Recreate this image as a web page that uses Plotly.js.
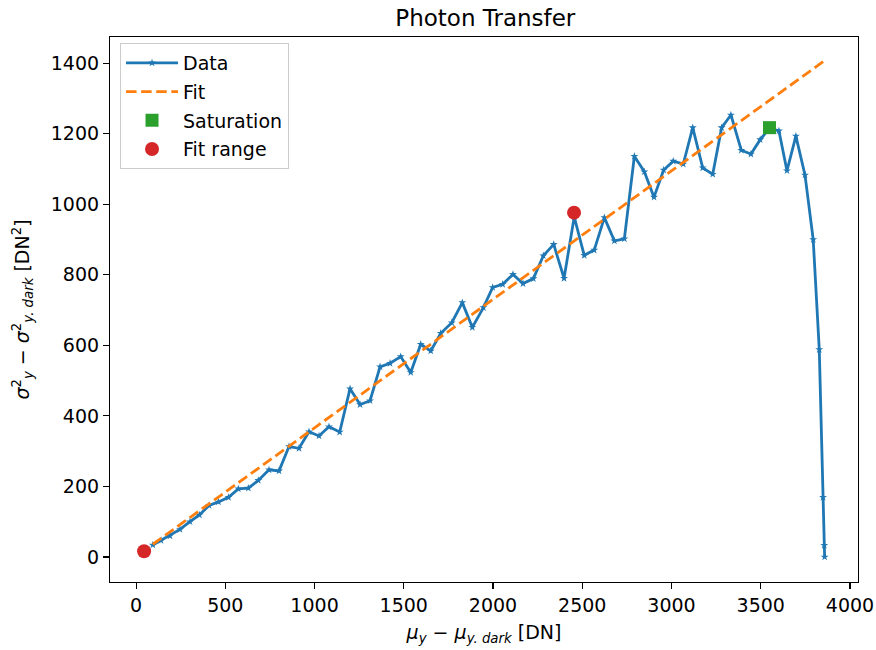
<!DOCTYPE html>
<html>
<head>
<meta charset="utf-8">
<script src="https://cdn.plot.ly/plotly-3.0.1.min.js"></script>
<style>html,body{margin:0;padding:0;background:#fff;}#chart{width:876px;height:650px;}</style>
</head>
<body>
<div id="chart"></div>
<script>
// Data series
const dataX = [94, 140, 190, 246, 302, 355, 409, 462, 518, 573, 629, 685, 745, 801, 857, 913, 969, 1025, 1081, 1141,
  1199, 1255, 1311, 1367, 1423, 1483, 1539, 1595, 1651, 1707, 1769, 1828, 1884, 1946, 1998, 2054, 2112, 2168, 2226, 2282,
  2340, 2398, 2455, 2511, 2567, 2624, 2680, 2736, 2792, 2848, 2902, 2956, 3010, 3066, 3119, 3175, 3231, 3281, 3333, 3391,
  3445, 3497, 3549, 3602, 3647, 3697, 3748, 3794, 3828, 3849, 3856, 3858];
const dataY = [34, 47, 60, 78, 100, 119, 146, 156, 169, 193, 195, 217, 247, 244, 313, 308, 355, 343, 369, 354,
  477, 432, 443, 539, 549, 568, 523, 603, 584, 634, 664, 721, 651, 707, 764, 773, 801, 775, 789, 854,
  886, 790, 964, 855, 870, 962, 896, 902, 1136, 1092, 1020, 1097, 1122, 1114, 1217, 1103, 1085, 1217, 1253, 1153,
  1142, 1183, 1216, 1208, 1095, 1193, 1083, 900, 588, 169, 33, 0];
const fitX = [94, 3858];
const fitY = [36, 1407];
const satX = [3549];
const satY = [1217];
const rangeX = [45, 2454];
const rangeY = [16, 976];

const traces = [
  {x: dataX, y: dataY, type: 'scatter', mode: 'lines+markers', name: 'Data', legendgroup: 'a',
   line: {color: '#1f77b4', width: 2.8}, marker: {symbol: 'star', size: 6, color: '#1f77b4'}},
  {x: fitX, y: fitY, type: 'scatter', mode: 'lines', name: 'Fit', legendgroup: 'b',
   line: {color: '#ff7f0e', width: 2.8, dash: '10.5px,4.6px'}},
  {x: satX, y: satY, type: 'scatter', mode: 'markers', name: 'Saturation', legendgroup: 'c',
   marker: {symbol: 'square', size: 13, color: '#2ca02c'}},
  {x: rangeX, y: rangeY, type: 'scatter', mode: 'markers', name: 'Fit range', legendgroup: 'd',
   marker: {symbol: 'circle', size: 14, color: '#d62728'}}
];

const axisCommon = {
  showgrid: false, zeroline: false, showline: true, mirror: true,
  linecolor: '#000', linewidth: 1.1, ticks: 'outside', ticklen: 6, tickwidth: 1.1,
  tickcolor: '#000', tickfont: {size: 19, color: '#000'}
};

const layout = {
  width: 876, height: 650,
  font: {family: 'DejaVu Sans, sans-serif', color: '#000'},
  paper_bgcolor: '#fff', plot_bgcolor: '#fff',
  margin: {l: 110, r: 18, t: 37, b: 68},
  title: {text: 'Photon Transfer', font: {size: 23, color: '#000'}, x: 0.554, xanchor: 'center', y: 0.972, yanchor: 'middle'},
  xaxis: Object.assign({}, axisCommon, {
    range: [-146, 4045], tickvals: [0, 500, 1000, 1500, 2000, 2500, 3000, 3500, 4000],
    title: {text: '<i>μ</i><sub><i>y</i></sub> − <i>μ</i><sub><i>y. dark</i></sub> [DN]', font: {size: 19}, standoff: 10}
  }),
  yaxis: Object.assign({}, axisCommon, {
    range: [-71, 1474], tickvals: [0, 200, 400, 600, 800, 1000, 1200, 1400],
    title: {text: '<i>σ</i><sup>2</sup><sub><i>y</i></sub> − <i>σ</i><sup>2</sup><sub><i>y. dark</i></sub> [DN<sup>2</sup>]', font: {size: 19}, standoff: 16}
  }),
  showlegend: true,
  legend: {x: 0.0134, y: 0.989, xanchor: 'left', yanchor: 'top', font: {size: 19, color: '#000'},
    bgcolor: 'rgba(255,255,255,0.8)', bordercolor: '#ccc', borderwidth: 1,
    traceorder: 'grouped', tracegroupgap: 1, itemwidth: 52}
};

Plotly.newPlot('chart', traces, layout, {displayModeBar: false, staticPlot: true});
</script>
</body>
</html>
